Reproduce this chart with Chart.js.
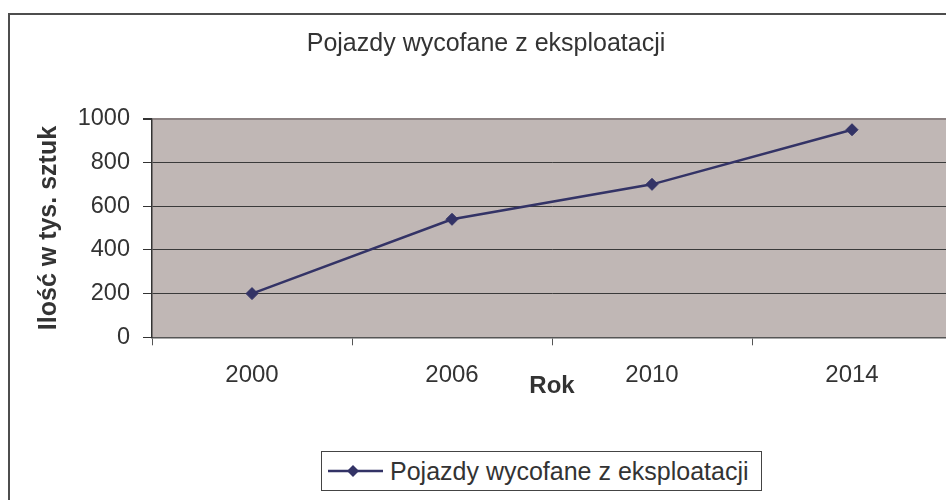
<!DOCTYPE html>
<html>
<head>
<meta charset="utf-8">
<script src="https://cdn.jsdelivr.net/npm/chart.js@4.4.1/dist/chart.umd.min.js"></script>
<style>
html,body{margin:0;padding:0;width:946px;height:500px;overflow:hidden;background:#fff}
#frame{position:absolute;left:8px;top:13px;width:1000px;height:600px;border-left:2px solid #4d4d4d;border-top:2px solid #4d4d4d;box-sizing:border-box}
#wrap{position:absolute;left:0;top:0;width:960px;height:500px}
#legend{position:absolute;left:321px;top:451px;width:439px;height:38px;border:1px solid #444;background:#fff;
  font-family:'Liberation Sans',Arial,sans-serif;font-size:25px;color:#333;display:flex;align-items:center;white-space:nowrap}
#legend svg{margin-left:6px;margin-right:7px;flex:none}
</style>
</head>
<body>
<div id="frame"></div>
<div id="wrap"><canvas id="c" width="960" height="500"></canvas></div>
<div id="legend"><svg width="55" height="38"><line x1="0" y1="19" x2="55" y2="19" stroke="#333366" stroke-width="2.5"/><polygon points="25,13 31,19 25,25 19,19" fill="#333366"/></svg><span id="legText"></span></div>
<script>
const chartTitle = 'Pojazdy wycofane z eksploatacji';
const seriesName = 'Pojazdy wycofane z eksploatacji';
const xAxisTitle = 'Rok';
const yAxisTitle = 'Ilość w tys. sztuk';
const years = ['2000', '2006', '2010', '2014'];
const removedVehicles = [200, 540, 700, 950];
const yMin = 0, yMax = 1000, yStep = 200;

document.getElementById('legText').textContent = seriesName;

const FONT = "'Liberation Sans', Arial, sans-serif";
const NAVY = '#333366';

const plotBg = {
  id: 'plotBg',
  beforeDraw(chart) {
    const {ctx, chartArea: a} = chart;
    ctx.save();
    ctx.fillStyle = '#C0B7B5';
    ctx.fillRect(a.left, a.top, a.right - a.left, a.bottom - a.top);
    ctx.restore();
  }
};

new Chart(document.getElementById('c'), {
  type: 'line',
  data: {
    labels: years,
    datasets: [{
      label: seriesName,
      data: removedVehicles,
      borderColor: NAVY,
      backgroundColor: NAVY,
      borderWidth: 2.5,
      tension: 0,
      pointStyle: 'rectRot',
      pointRadius: 6,
      pointBorderWidth: 1,
      pointBackgroundColor: NAVY,
      pointBorderColor: NAVY,
      fill: false
    }]
  },
  options: {
    responsive: false,
    animation: false,
    events: [],
    layout: {padding: {left: 20, right: 8, top: 0, bottom: 0}},
    plugins: {
      legend: {display: false},
      tooltip: {enabled: false},
      title: {
        display: true,
        text: chartTitle,
        color: '#333',
        font: {family: FONT, size: 25, weight: 'normal', lineHeight: 1.2},
        padding: {top: 29, bottom: 59.8}
      }
    },
    scales: {
      x: {
        type: 'category',
        offset: true,
        grid: {offset: true, drawOnChartArea: false, drawTicks: true, tickLength: 8, tickColor: '#555', tickWidth: 1},
        border: {display: true, color: '#555', width: 1.5},
        ticks: {color: '#333', font: {family: FONT, size: 24}, padding: 15.3, maxRotation: 0, autoSkip: false},
        title: {display: true, text: xAxisTitle, color: '#333', font: {family: FONT, size: 24, weight: 'bold', lineHeight: 1.2}, padding: {top: 0, bottom: 99.6}},
        afterFit(s) { s.height = 162.7; }
      },
      y: {
        min: yMin,
        max: yMax,
        grid: {
          drawTicks: true,
          tickLength: 9,
          tickColor: '#333',
          color: c => (c.tick && c.tick.value === yMax) ? '#8c8282' : '#3a3a3a',
          lineWidth: c => (c.tick && c.tick.value === yMax) ? 2 : 1
        },
        border: {display: true, color: '#333', width: 1.5},
        ticks: {stepSize: yStep, color: '#333', font: {family: FONT, size: 23.5}, padding: 13, callback: v => String(v)},
        title: {display: true, text: yAxisTitle, color: '#333', font: {family: FONT, size: 25, weight: 'bold', lineHeight: 1.2}, padding: {top: 14, bottom: 0}},
        afterFit(s) { s.width = 132; }
      }
    }
  },
  plugins: [plotBg]
});
</script>
</body>
</html>
